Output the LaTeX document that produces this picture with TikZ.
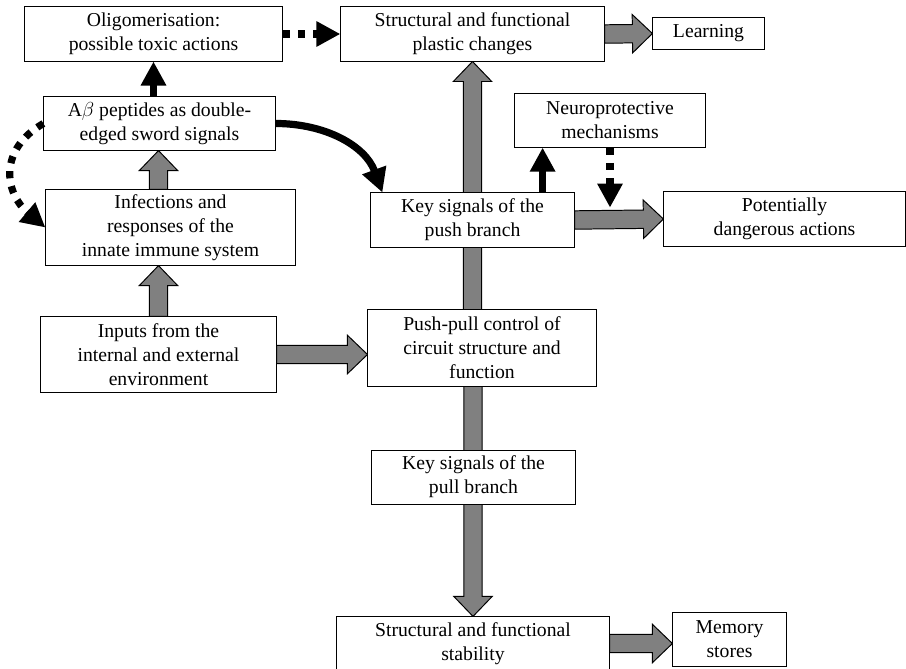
\documentclass[tikz,border=0pt]{standalone}
\usepackage{fontspec}
\setmainfont{Liberation Serif}
\usetikzlibrary{arrows.meta,calc,backgrounds}

% wide grey arrow from #1 to #2
\newcommand{\fatarrow}[2]{%
  \path (#1) coordinate (fa) (#2) coordinate (fb);
  \path ($(fb)!0.5cm!(fa)$) coordinate (fh);
  \filldraw[fat] ($(fa)!0.23cm!90:(fb)$) -- ($(fh)!0.23cm!90:(fb)$)
    -- ($(fh)!0.48cm!90:(fb)$) -- (fb) -- ($(fh)!0.48cm!-90:(fb)$)
    -- ($(fh)!0.23cm!-90:(fb)$) -- ($(fa)!0.23cm!-90:(fb)$) -- cycle;}

\begin{document}
\begin{tikzpicture}[x=0.025cm, y=-0.025cm,
  box/.style={draw, line width=0.7pt, fill=white, align=center, inner sep=0pt,
    font=\fontsize{14}{17}\selectfont},
  fat/.style={fill=black!50, draw=black, line width=0.7pt},
  blk/.style={line width=0.18cm, -{Triangle[length=0.6cm,width=0.6cm]}},
  dots/.style={blk, dash pattern=on 0.18cm off 0.2cm}]
\useasboundingbox (0,0) rectangle (906,669);
\node[box, minimum width=6.43cm, minimum height=1.35cm] (oligo) at (153.5,34) {Oligomerisation:\\possible toxic actions};
\node[box, minimum width=6.58cm, minimum height=1.35cm] (plastic) at (472.5,34) {Structural and functional\\plastic changes};
\node[box, minimum width=2.78cm, minimum height=0.78cm] (learning) at (708.5,33.5) {Learning};
\node[box, minimum width=5.78cm, minimum height=1.33cm] (abeta) at (159.5,123.5) {A$\beta$ peptides as double-\\edged sword signals};
\node[box, minimum width=4.75cm, minimum height=1.33cm] (neuro) at (610,120.5) {Neuroprotective\\mechanisms};
\node[box, minimum width=6.23cm, minimum height=1.88cm] (infect) at (170.5,227.5) {Infections and\\responses of the\\innate immune system};
\node[box, minimum width=5.08cm, minimum height=1.35cm] (keypush) at (472.5,220) {Key signals of the\\push branch};
\node[box, minimum width=6.03cm, minimum height=1.35cm] (potent) at (784.5,219) {Potentially\\dangerous actions};
\node[box, minimum width=5.88cm, minimum height=1.88cm] (inputs) at (158.5,354.5) {Inputs from the\\internal and external\\environment};
\node[box, minimum width=5.70cm, minimum height=1.90cm] (pushpull) at (482,348) {Push-pull control of\\circuit structure and\\function};
\node[box, minimum width=5.08cm, minimum height=1.35cm] (keypull) at (473.5,477) {Key signals of the\\pull branch};
\node[box, minimum width=6.80cm, minimum height=1.33cm] (stab) at (473,643.5) {Structural and functional\\stability};
\node[box, minimum width=2.83cm, minimum height=1.35cm] (memory) at (729.5,639) {Memory\\stores};
\coordinate (hit) at ($(neuro.south)+(0,60)$);
\coordinate (kp) at ([xshift=-0.8cm]keypush.north east);
\begin{scope}[on background layer]
\fatarrow{inputs.north}{inputs.north |- infect.south}
\fatarrow{inputs.north |- infect.north}{inputs.north |- abeta.south}
\fatarrow{inputs.east}{inputs.east -| pushpull.west}
\fatarrow{plastic.south |- pushpull.north}{plastic.south}
\fatarrow{stab.north |- pushpull.south}{stab.north}
\fatarrow{plastic.east}{learning.west}
\fatarrow{keypush.east}{potent.west}
\fatarrow{stab.east -| stab.east}{stab.east -| memory.west}
\end{scope}
\draw[blk] (oligo.south |- abeta.north) -- (oligo.south);
\draw[dots] (oligo.east) -- (plastic.west);
\draw[blk] (abeta.east) to[out=0, in=110] ([xshift=0.3cm]keypush.north west);
\draw[dots] (abeta.west) to[out=210, in=140, looseness=1.3] (infect.west);
\draw[blk] (kp) -- (kp |- neuro.south);
\draw[dots] (neuro.south) -- (hit);
\end{tikzpicture}
\end{document}
